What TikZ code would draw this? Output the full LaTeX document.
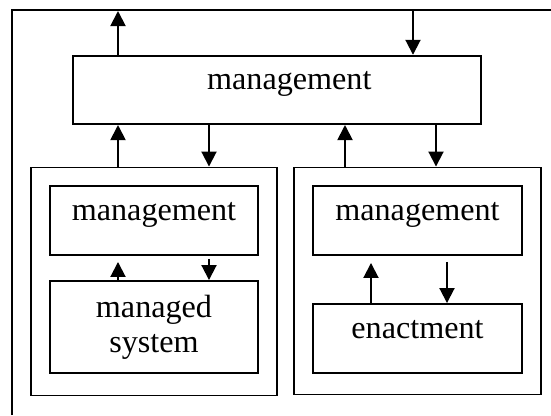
\documentclass[tikz,border=0pt]{standalone}
\usepackage{fontspec}
\setmainfont{Liberation Serif}
\usetikzlibrary{arrows.meta,positioning}

\begin{document}
\begin{tikzpicture}[-,line width=1.1pt,auto,
                    >={Triangle[length=0.3cm,width=0.3cm]},
                    every node/.style={font=\fontsize{18.3}{19.9}\selectfont},
                    box/.style={draw, rectangle, inner sep=0pt, text height=0.3cm, text depth=0.3cm},
                    frame/.style={draw, rectangle, inner sep=0pt}]

  \useasboundingbox (0,0) rectangle (11.02,-8.3);

  % outer frame (only top and left edges show)
  \draw (0.232,-8.3) -- (0.232,-0.2) -- (11.02,-0.2);

  \node[box, minimum width=8.16cm, minimum height=1.366cm] at (5.546,-1.798) (top) {\hspace*{0.48cm}management};

  \node[frame, minimum width=4.92cm, minimum height=4.56cm] at (3.08,-5.63)  (lsub) {};
  \node[frame, minimum width=4.94cm, minimum height=4.54cm] at (8.35,-5.62)  (rsub) {};

  \node[box, minimum width=4.16cm, minimum height=1.38cm] at (3.08,-4.41)  (lmgmt) {management};
  \node[frame, align=center, minimum width=4.16cm, minimum height=1.84cm] at (3.08,-6.54) (lsys) {managed\\system};
  \node[box, minimum width=4.18cm, minimum height=1.38cm] at (8.35,-4.41)  (rmgmt) {management};
  \node[box, minimum width=4.18cm, minimum height=1.38cm] at (8.35,-6.77)  (enact) {enactment};

  % x positions of the arrows
  \coordinate (xa) at (2.36,0);
  \coordinate (xb) at (8.26,0);
  \coordinate (xc) at (4.18,0);
  \coordinate (xd) at (6.90,0);
  \coordinate (xe) at (8.72,0);
  \coordinate (xf) at (7.42,0);
  \coordinate (xg) at (8.94,0);
  \coordinate (fa) at (2.36,-0.22);
  \coordinate (fb) at (8.26,-0.22);

  \path[->] (top.north -| xa) edge (fa)
            (fb) edge (top.north -| xb)
            (lsub.north -| xa) edge (top.south -| xa)
            (top.south -| xc) edge (lsub.north -| xc)
            (rsub.north -| xd) edge (top.south -| xd)
            (top.south -| xe) edge (rsub.north -| xe)
            (lsys.north -| xa) edge[shorten >=0.12cm] (lmgmt.south -| xa)
            (lmgmt.south -| xc) edge[shorten <=0.06cm] (lsys.north -| xc)
            (enact.north -| xf) edge[shorten >=0.14cm] (rmgmt.south -| xf)
            (rmgmt.south -| xg) edge[shorten <=0.12cm] (enact.north -| xg);

\end{tikzpicture}
\end{document}
